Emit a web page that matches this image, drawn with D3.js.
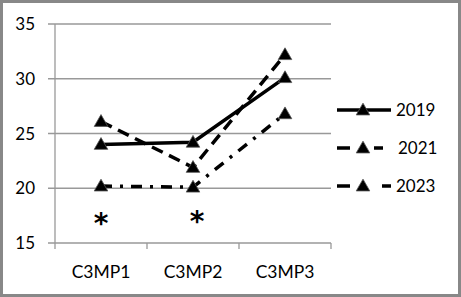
<!DOCTYPE html>
<html>
<head>
<meta charset="utf-8">
<script src="https://cdn.jsdelivr.net/npm/d3@7"></script>
<style>
  body { margin: 0; background: #fff; }
  svg { display: block; font-family: Lato, "Open Sans", sans-serif; }
</style>
</head>
<body>
<div id="chart-area"></div>
<script>
var categories = ["C3MP1", "C3MP2", "C3MP3"];
var years = ["2019", "2021", "2023"];
var v2019 = [24.0, 24.2, 30.1];
var v2021 = [26.1, 21.9, 32.2];
var v2023 = [20.2, 20.1, 26.8];
var yTicks = [15, 20, 25, 30, 35];
// asterisk notes under the first two groups
var starCats = ["C3MP1", "C3MP2"];
var starVals = [17.4, 17.6];

var W = 461, H = 297;
var margin = {left: 55, right: 130, top: 24, bottom: 54};
var width = W - margin.left - margin.right,
    height = H - margin.top - margin.bottom;

var svg = d3.select("#chart-area").append("svg")
    .attr("width", W).attr("height", H);

// outer frame
svg.append("rect")
    .attr("x", 1.5).attr("y", 1.5)
    .attr("width", W - 3).attr("height", H - 3)
    .attr("fill", "#fff").attr("stroke", "#888").attr("stroke-width", 3);

var g = svg.append("g")
    .attr("transform", "translate(" + margin.left + "," + margin.top + ")");

var x = d3.scaleBand().domain(categories).range([0, width]);
var y = d3.scaleLinear().domain([15, 35]).range([height, 0]);

// gridlines
g.selectAll(".grid").data(yTicks).enter().append("line")
    .attr("x1", -7).attr("x2", width)
    .attr("y1", d => y(d)).attr("y2", d => y(d))
    .attr("stroke", "#999").attr("stroke-width", 1.3);

// y axis line
g.append("line")
    .attr("x1", 0).attr("x2", 0).attr("y1", 0).attr("y2", height)
    .attr("stroke", "#999").attr("stroke-width", 1.3);

g.selectAll(".ylab").data(yTicks).enter().append("text")
    .attr("x", -20).attr("y", d => y(d) + 6)
    .attr("text-anchor", "end").attr("font-size", "17px").attr("fill", "#000")
    .text(d => d);

// x ticks
var xTicks = d3.range(categories.length + 1).map(i => i * x.step());
g.selectAll(".xt").data(xTicks).enter().append("line")
    .attr("x1", d => d).attr("x2", d => d)
    .attr("y1", height).attr("y2", height + 6)
    .attr("stroke", "#999").attr("stroke-width", 1.3);

g.selectAll(".xlab").data(categories).enter().append("text")
    .attr("x", d => x(d) + x.bandwidth() / 2).attr("y", height + 35)
    .attr("text-anchor", "middle").attr("font-size", "17.5px").attr("fill", "#000")
    .text(d => d);

var series = [
  {name: years[0], values: v2019, dash: null},
  {name: years[1], values: v2021, dash: "12,7"},
  {name: years[2], values: v2023, dash: "11,8,3,8"}
];

var line = d3.line()
    .x((d, i) => x(categories[i]) + x.bandwidth() / 2)
    .y(d => y(d));

var tri = d3.symbol().type(d3.symbolTriangle).size(80);

series.forEach(function(s) {
  g.append("path")
      .attr("d", line(s.values))
      .attr("fill", "none").attr("stroke", "#000").attr("stroke-width", 3.5)
      .attr("stroke-dasharray", s.dash);
});
series.forEach(function(s) {
  g.selectAll(null).data(s.values).enter().append("path")
      .attr("d", tri)
      .attr("transform", (d, i) => "translate(" + (x(categories[i]) + x.bandwidth() / 2) + "," + (y(d) + 1) + ")")
      .attr("fill", "#000").attr("stroke", "#555").attr("stroke-width", 0.8);
});

// asterisks
g.selectAll(".star").data(starVals).enter().append("text")
    .attr("x", (d, i) => x(starCats[i]) + x.bandwidth() / 2 + (i === 1 ? 4 : 0))
    .attr("y", d => y(d) + 16)
    .attr("text-anchor", "middle").attr("font-size", "28px").attr("font-weight", "bold")
    .attr("font-family", "'DejaVu Sans', sans-serif")
    .text("*");

// legend
var leg = svg.append("g").attr("transform", "translate(337,110)");
var legDash = [null, "13,24,9", "13,32,11"];
series.forEach(function(s, i) {
  var row = leg.append("g").attr("transform", "translate(0," + (i * 38) + ")");
  row.append("line")
      .attr("x1", 0).attr("x2", 54).attr("y1", 0).attr("y2", 0)
      .attr("stroke", "#000").attr("stroke-width", 3.5)
      .attr("stroke-dasharray", legDash[i]);
  row.append("path").attr("d", tri)
      .attr("transform", "translate(26,1)")
      .attr("fill", "#000").attr("stroke", "#555").attr("stroke-width", 0.8);
  row.append("text")
      .attr("x", i === 1 ? 61 : 59).attr("y", 6)
      .attr("font-size", "17px").attr("fill", "#000")
      .text(s.name);
});
</script>
</body>
</html>
